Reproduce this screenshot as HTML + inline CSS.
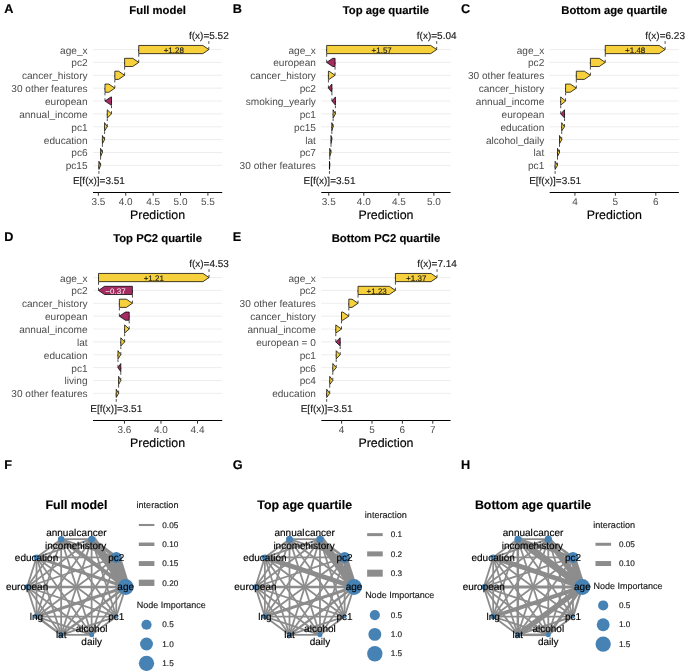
<!DOCTYPE html>
<html><head><meta charset="utf-8"><style>
html,body{margin:0;padding:0;background:#fff;}
svg{display:block;}
text{font-family:"Liberation Sans",sans-serif;text-rendering:geometricPrecision;}
</style></head><body>
<div style="will-change:transform;width:685px;height:671px"><svg width="685" height="671" viewBox="0 0 685 671">
<rect width="685" height="671" fill="#fff"/>
<text x="4.30" y="13.00" font-size="12.7" text-anchor="start" font-weight="bold" fill="#000" stroke="#000" stroke-width="0.15" >A</text>
<text x="157.60" y="13.80" font-size="11.3" text-anchor="middle" font-weight="bold" fill="#000" stroke="#000" stroke-width="0.15" >Full model</text>
<line x1="93.0" x2="222.2" y1="49.55" y2="49.55" stroke="#ebebeb" stroke-width="0.9"/>
<line x1="93.0" x2="222.2" y1="62.42" y2="62.42" stroke="#ebebeb" stroke-width="0.9"/>
<line x1="93.0" x2="222.2" y1="75.29" y2="75.29" stroke="#ebebeb" stroke-width="0.9"/>
<line x1="93.0" x2="222.2" y1="88.15" y2="88.15" stroke="#ebebeb" stroke-width="0.9"/>
<line x1="93.0" x2="222.2" y1="101.02" y2="101.02" stroke="#ebebeb" stroke-width="0.9"/>
<line x1="93.0" x2="222.2" y1="113.89" y2="113.89" stroke="#ebebeb" stroke-width="0.9"/>
<line x1="93.0" x2="222.2" y1="126.76" y2="126.76" stroke="#ebebeb" stroke-width="0.9"/>
<line x1="93.0" x2="222.2" y1="139.63" y2="139.63" stroke="#ebebeb" stroke-width="0.9"/>
<line x1="93.0" x2="222.2" y1="152.49" y2="152.49" stroke="#ebebeb" stroke-width="0.9"/>
<line x1="93.0" x2="222.2" y1="165.36" y2="165.36" stroke="#ebebeb" stroke-width="0.9"/>
<text x="87.60" y="53.55" font-size="10.1" text-anchor="end" fill="#4d4d4d" stroke="#4d4d4d" stroke-width="0" >age_x</text>
<text x="87.60" y="66.42" font-size="10.1" text-anchor="end" fill="#4d4d4d" stroke="#4d4d4d" stroke-width="0" >pc2</text>
<text x="87.60" y="79.29" font-size="10.1" text-anchor="end" fill="#4d4d4d" stroke="#4d4d4d" stroke-width="0" >cancer_history</text>
<text x="87.60" y="92.15" font-size="10.1" text-anchor="end" fill="#4d4d4d" stroke="#4d4d4d" stroke-width="0" >30 other features</text>
<text x="87.60" y="105.02" font-size="10.1" text-anchor="end" fill="#4d4d4d" stroke="#4d4d4d" stroke-width="0" >european</text>
<text x="87.60" y="117.89" font-size="10.1" text-anchor="end" fill="#4d4d4d" stroke="#4d4d4d" stroke-width="0" >annual_income</text>
<text x="87.60" y="130.76" font-size="10.1" text-anchor="end" fill="#4d4d4d" stroke="#4d4d4d" stroke-width="0" >pc1</text>
<text x="87.60" y="143.63" font-size="10.1" text-anchor="end" fill="#4d4d4d" stroke="#4d4d4d" stroke-width="0" >education</text>
<text x="87.60" y="156.49" font-size="10.1" text-anchor="end" fill="#4d4d4d" stroke="#4d4d4d" stroke-width="0" >pc6</text>
<text x="87.60" y="169.36" font-size="10.1" text-anchor="end" fill="#4d4d4d" stroke="#4d4d4d" stroke-width="0" >pc15</text>
<line x1="93.0" x2="222.2" y1="192.5" y2="192.5" stroke="#000" stroke-width="1.1"/>
<line x1="98.35" x2="98.35" y1="192.5" y2="195.7" stroke="#333" stroke-width="1"/>
<text x="98.35" y="204.90" font-size="10" text-anchor="middle" fill="#4d4d4d" stroke="#4d4d4d" stroke-width="0" >3.5</text>
<line x1="125.74" x2="125.74" y1="192.5" y2="195.7" stroke="#333" stroke-width="1"/>
<text x="125.74" y="204.90" font-size="10" text-anchor="middle" fill="#4d4d4d" stroke="#4d4d4d" stroke-width="0" >4.0</text>
<line x1="153.13" x2="153.13" y1="192.5" y2="195.7" stroke="#333" stroke-width="1"/>
<text x="153.13" y="204.90" font-size="10" text-anchor="middle" fill="#4d4d4d" stroke="#4d4d4d" stroke-width="0" >4.5</text>
<line x1="180.52" x2="180.52" y1="192.5" y2="195.7" stroke="#333" stroke-width="1"/>
<text x="180.52" y="204.90" font-size="10" text-anchor="middle" fill="#4d4d4d" stroke="#4d4d4d" stroke-width="0" >5.0</text>
<line x1="207.91" x2="207.91" y1="192.5" y2="195.7" stroke="#333" stroke-width="1"/>
<text x="207.91" y="204.90" font-size="10" text-anchor="middle" fill="#4d4d4d" stroke="#4d4d4d" stroke-width="0" >5.5</text>
<text x="157.60" y="219.20" font-size="12.4" text-anchor="middle" fill="#000" stroke="#000" stroke-width="0.15" >Prediction</text>
<line x1="100.60" x2="100.60" y1="165.36" y2="152.49" stroke="#000" stroke-width="0.7" stroke-dasharray="2.7 3"/>
<line x1="102.40" x2="102.40" y1="152.49" y2="139.63" stroke="#000" stroke-width="0.7" stroke-dasharray="2.7 3"/>
<line x1="104.59" x2="104.59" y1="139.63" y2="126.76" stroke="#000" stroke-width="0.7" stroke-dasharray="2.7 3"/>
<line x1="107.28" x2="107.28" y1="126.76" y2="113.89" stroke="#000" stroke-width="0.7" stroke-dasharray="2.7 3"/>
<line x1="111.50" x2="111.50" y1="113.89" y2="101.02" stroke="#000" stroke-width="0.7" stroke-dasharray="2.7 3"/>
<line x1="104.98" x2="104.98" y1="101.02" y2="88.15" stroke="#000" stroke-width="0.7" stroke-dasharray="2.7 3"/>
<line x1="114.84" x2="114.84" y1="88.15" y2="75.29" stroke="#000" stroke-width="0.7" stroke-dasharray="2.7 3"/>
<line x1="124.64" x2="124.64" y1="75.29" y2="62.42" stroke="#000" stroke-width="0.7" stroke-dasharray="2.7 3"/>
<line x1="138.72" x2="138.72" y1="62.42" y2="49.55" stroke="#000" stroke-width="0.7" stroke-dasharray="2.7 3"/>
<line x1="98.90" x2="98.90" y1="165.36" y2="175.00" stroke="#000" stroke-width="0.7" stroke-dasharray="2.7 3"/>
<text x="98.90" y="183.80" font-size="10" text-anchor="middle" fill="#1a1a1a" stroke="#1a1a1a" stroke-width="0.15" >E[f(x)]=3.51</text>
<line x1="208.84" x2="208.84" y1="49.55" y2="40.50" stroke="#000" stroke-width="0.7" stroke-dasharray="2.7 3"/>
<text x="208.84" y="38.70" font-size="10" text-anchor="middle" fill="#1a1a1a" stroke="#1a1a1a" stroke-width="0.15" >f(x)=5.52</text>
<polygon points="138.72,45.45 202.84,45.45 208.84,49.55 202.84,53.65 138.72,53.65" fill="#f7d13d" stroke="#000" stroke-width="0.75" stroke-linejoin="miter"/>
<text x="173.78" y="52.65" font-size="8" text-anchor="middle" fill="#1a1a1a" stroke="#1a1a1a" stroke-width="0.15" >+1.28</text>
<polygon points="124.64,58.32 132.72,58.32 138.72,62.42 132.72,66.52 124.64,66.52" fill="#f7d13d" stroke="#000" stroke-width="0.75" stroke-linejoin="miter"/>
<polygon points="114.84,71.19 118.64,71.19 124.64,75.29 118.64,79.39 114.84,79.39" fill="#f7d13d" stroke="#000" stroke-width="0.75" stroke-linejoin="miter"/>
<polygon points="104.98,84.05 108.84,84.05 114.84,88.15 108.84,92.25 104.98,92.25" fill="#f7d13d" stroke="#000" stroke-width="0.75" stroke-linejoin="miter"/>
<polygon points="111.50,96.92 110.98,96.92 104.98,101.02 110.98,105.12 111.50,105.12" fill="#a52c60" stroke="#000" stroke-width="0.75" stroke-linejoin="miter"/>
<polygon points="107.28,109.79 107.28,109.79 111.50,113.89 107.28,117.99 107.28,117.99" fill="#f7d13d" stroke="#000" stroke-width="0.75" stroke-linejoin="miter"/>
<polygon points="104.59,122.66 104.59,122.66 107.28,126.76 104.59,130.86 104.59,130.86" fill="#f7d13d" stroke="#000" stroke-width="0.75" stroke-linejoin="miter"/>
<polygon points="102.40,135.53 102.40,135.53 104.59,139.63 102.40,143.73 102.40,143.73" fill="#f7d13d" stroke="#000" stroke-width="0.75" stroke-linejoin="miter"/>
<polygon points="100.60,148.39 100.60,148.39 102.40,152.49 100.60,156.59 100.60,156.59" fill="#f7d13d" stroke="#000" stroke-width="0.75" stroke-linejoin="miter"/>
<polygon points="98.90,161.26 98.90,161.26 100.60,165.36 98.90,169.46 98.90,169.46" fill="#f7d13d" stroke="#000" stroke-width="0.75" stroke-linejoin="miter"/>
<text x="232.63" y="13.00" font-size="12.7" text-anchor="start" font-weight="bold" fill="#000" stroke="#000" stroke-width="0.15" >B</text>
<text x="385.93" y="13.80" font-size="11.3" text-anchor="middle" font-weight="bold" fill="#000" stroke="#000" stroke-width="0.15" >Top age quartile</text>
<line x1="321.33000000000004" x2="450.53" y1="49.55" y2="49.55" stroke="#ebebeb" stroke-width="0.9"/>
<line x1="321.33000000000004" x2="450.53" y1="62.42" y2="62.42" stroke="#ebebeb" stroke-width="0.9"/>
<line x1="321.33000000000004" x2="450.53" y1="75.29" y2="75.29" stroke="#ebebeb" stroke-width="0.9"/>
<line x1="321.33000000000004" x2="450.53" y1="88.15" y2="88.15" stroke="#ebebeb" stroke-width="0.9"/>
<line x1="321.33000000000004" x2="450.53" y1="101.02" y2="101.02" stroke="#ebebeb" stroke-width="0.9"/>
<line x1="321.33000000000004" x2="450.53" y1="113.89" y2="113.89" stroke="#ebebeb" stroke-width="0.9"/>
<line x1="321.33000000000004" x2="450.53" y1="126.76" y2="126.76" stroke="#ebebeb" stroke-width="0.9"/>
<line x1="321.33000000000004" x2="450.53" y1="139.63" y2="139.63" stroke="#ebebeb" stroke-width="0.9"/>
<line x1="321.33000000000004" x2="450.53" y1="152.49" y2="152.49" stroke="#ebebeb" stroke-width="0.9"/>
<line x1="321.33000000000004" x2="450.53" y1="165.36" y2="165.36" stroke="#ebebeb" stroke-width="0.9"/>
<text x="315.93" y="53.55" font-size="10.1" text-anchor="end" fill="#4d4d4d" stroke="#4d4d4d" stroke-width="0" >age_x</text>
<text x="315.93" y="66.42" font-size="10.1" text-anchor="end" fill="#4d4d4d" stroke="#4d4d4d" stroke-width="0" >european</text>
<text x="315.93" y="79.29" font-size="10.1" text-anchor="end" fill="#4d4d4d" stroke="#4d4d4d" stroke-width="0" >cancer_history</text>
<text x="315.93" y="92.15" font-size="10.1" text-anchor="end" fill="#4d4d4d" stroke="#4d4d4d" stroke-width="0" >pc2</text>
<text x="315.93" y="105.02" font-size="10.1" text-anchor="end" fill="#4d4d4d" stroke="#4d4d4d" stroke-width="0" >smoking_yearly</text>
<text x="315.93" y="117.89" font-size="10.1" text-anchor="end" fill="#4d4d4d" stroke="#4d4d4d" stroke-width="0" >pc1</text>
<text x="315.93" y="130.76" font-size="10.1" text-anchor="end" fill="#4d4d4d" stroke="#4d4d4d" stroke-width="0" >pc15</text>
<text x="315.93" y="143.63" font-size="10.1" text-anchor="end" fill="#4d4d4d" stroke="#4d4d4d" stroke-width="0" >lat</text>
<text x="315.93" y="156.49" font-size="10.1" text-anchor="end" fill="#4d4d4d" stroke="#4d4d4d" stroke-width="0" >pc7</text>
<text x="315.93" y="169.36" font-size="10.1" text-anchor="end" fill="#4d4d4d" stroke="#4d4d4d" stroke-width="0" >30 other features</text>
<line x1="321.33000000000004" x2="450.53" y1="192.5" y2="192.5" stroke="#000" stroke-width="1.1"/>
<line x1="328.76" x2="328.76" y1="192.5" y2="195.7" stroke="#333" stroke-width="1"/>
<text x="328.76" y="204.90" font-size="10" text-anchor="middle" fill="#4d4d4d" stroke="#4d4d4d" stroke-width="0" >3.5</text>
<line x1="363.80" x2="363.80" y1="192.5" y2="195.7" stroke="#333" stroke-width="1"/>
<text x="363.80" y="204.90" font-size="10" text-anchor="middle" fill="#4d4d4d" stroke="#4d4d4d" stroke-width="0" >4.0</text>
<line x1="398.84" x2="398.84" y1="192.5" y2="195.7" stroke="#333" stroke-width="1"/>
<text x="398.84" y="204.90" font-size="10" text-anchor="middle" fill="#4d4d4d" stroke="#4d4d4d" stroke-width="0" >4.5</text>
<line x1="433.88" x2="433.88" y1="192.5" y2="195.7" stroke="#333" stroke-width="1"/>
<text x="433.88" y="204.90" font-size="10" text-anchor="middle" fill="#4d4d4d" stroke="#4d4d4d" stroke-width="0" >5.0</text>
<text x="385.93" y="219.20" font-size="12.4" text-anchor="middle" fill="#000" stroke="#000" stroke-width="0.15" >Prediction</text>
<line x1="329.74" x2="329.74" y1="165.36" y2="152.49" stroke="#000" stroke-width="0.7" stroke-dasharray="2.7 3"/>
<line x1="331.00" x2="331.00" y1="152.49" y2="139.63" stroke="#000" stroke-width="0.7" stroke-dasharray="2.7 3"/>
<line x1="331.84" x2="331.84" y1="139.63" y2="126.76" stroke="#000" stroke-width="0.7" stroke-dasharray="2.7 3"/>
<line x1="333.10" x2="333.10" y1="126.76" y2="113.89" stroke="#000" stroke-width="0.7" stroke-dasharray="2.7 3"/>
<line x1="335.42" x2="335.42" y1="113.89" y2="101.02" stroke="#000" stroke-width="0.7" stroke-dasharray="2.7 3"/>
<line x1="331.91" x2="331.91" y1="101.02" y2="88.15" stroke="#000" stroke-width="0.7" stroke-dasharray="2.7 3"/>
<line x1="328.41" x2="328.41" y1="88.15" y2="75.29" stroke="#000" stroke-width="0.7" stroke-dasharray="2.7 3"/>
<line x1="335.07" x2="335.07" y1="75.29" y2="62.42" stroke="#000" stroke-width="0.7" stroke-dasharray="2.7 3"/>
<line x1="326.66" x2="326.66" y1="62.42" y2="49.55" stroke="#000" stroke-width="0.7" stroke-dasharray="2.7 3"/>
<line x1="329.46" x2="329.46" y1="165.36" y2="175.00" stroke="#000" stroke-width="0.7" stroke-dasharray="2.7 3"/>
<text x="329.46" y="183.80" font-size="10" text-anchor="middle" fill="#1a1a1a" stroke="#1a1a1a" stroke-width="0.15" >E[f(x)]=3.51</text>
<line x1="436.68" x2="436.68" y1="49.55" y2="40.50" stroke="#000" stroke-width="0.7" stroke-dasharray="2.7 3"/>
<text x="436.68" y="38.70" font-size="10" text-anchor="middle" fill="#1a1a1a" stroke="#1a1a1a" stroke-width="0.15" >f(x)=5.04</text>
<polygon points="326.66,45.45 430.68,45.45 436.68,49.55 430.68,53.65 326.66,53.65" fill="#f7d13d" stroke="#000" stroke-width="0.75" stroke-linejoin="miter"/>
<text x="381.67" y="52.65" font-size="8" text-anchor="middle" fill="#1a1a1a" stroke="#1a1a1a" stroke-width="0.15" >+1.57</text>
<polygon points="335.07,58.32 332.66,58.32 326.66,62.42 332.66,66.52 335.07,66.52" fill="#a52c60" stroke="#000" stroke-width="0.75" stroke-linejoin="miter"/>
<polygon points="328.41,71.19 329.07,71.19 335.07,75.29 329.07,79.39 328.41,79.39" fill="#f7d13d" stroke="#000" stroke-width="0.75" stroke-linejoin="miter"/>
<polygon points="331.91,84.05 331.91,84.05 328.41,88.15 331.91,92.25 331.91,92.25" fill="#a52c60" stroke="#000" stroke-width="0.75" stroke-linejoin="miter"/>
<polygon points="335.42,96.92 335.42,96.92 331.91,101.02 335.42,105.12 335.42,105.12" fill="#a52c60" stroke="#000" stroke-width="0.75" stroke-linejoin="miter"/>
<polygon points="333.10,109.79 333.10,109.79 335.42,113.89 333.10,117.99 333.10,117.99" fill="#f7d13d" stroke="#000" stroke-width="0.75" stroke-linejoin="miter"/>
<polygon points="331.84,122.66 331.84,122.66 333.10,126.76 331.84,130.86 331.84,130.86" fill="#f7d13d" stroke="#000" stroke-width="0.75" stroke-linejoin="miter"/>
<polygon points="331.00,135.53 331.00,135.53 331.84,139.63 331.00,143.73 331.00,143.73" fill="#f7d13d" stroke="#000" stroke-width="0.75" stroke-linejoin="miter"/>
<polygon points="329.74,148.39 329.74,148.39 331.00,152.49 329.74,156.59 329.74,156.59" fill="#f7d13d" stroke="#000" stroke-width="0.75" stroke-linejoin="miter"/>
<polygon points="329.46,161.26 329.46,161.26 329.74,165.36 329.46,169.46 329.46,169.46" fill="#f7d13d" stroke="#000" stroke-width="0.75" stroke-linejoin="miter"/>
<text x="460.97" y="13.00" font-size="12.7" text-anchor="start" font-weight="bold" fill="#000" stroke="#000" stroke-width="0.15" >C</text>
<text x="614.27" y="13.80" font-size="11.3" text-anchor="middle" font-weight="bold" fill="#000" stroke="#000" stroke-width="0.15" >Bottom age quartile</text>
<line x1="549.6700000000001" x2="678.87" y1="49.55" y2="49.55" stroke="#ebebeb" stroke-width="0.9"/>
<line x1="549.6700000000001" x2="678.87" y1="62.42" y2="62.42" stroke="#ebebeb" stroke-width="0.9"/>
<line x1="549.6700000000001" x2="678.87" y1="75.29" y2="75.29" stroke="#ebebeb" stroke-width="0.9"/>
<line x1="549.6700000000001" x2="678.87" y1="88.15" y2="88.15" stroke="#ebebeb" stroke-width="0.9"/>
<line x1="549.6700000000001" x2="678.87" y1="101.02" y2="101.02" stroke="#ebebeb" stroke-width="0.9"/>
<line x1="549.6700000000001" x2="678.87" y1="113.89" y2="113.89" stroke="#ebebeb" stroke-width="0.9"/>
<line x1="549.6700000000001" x2="678.87" y1="126.76" y2="126.76" stroke="#ebebeb" stroke-width="0.9"/>
<line x1="549.6700000000001" x2="678.87" y1="139.63" y2="139.63" stroke="#ebebeb" stroke-width="0.9"/>
<line x1="549.6700000000001" x2="678.87" y1="152.49" y2="152.49" stroke="#ebebeb" stroke-width="0.9"/>
<line x1="549.6700000000001" x2="678.87" y1="165.36" y2="165.36" stroke="#ebebeb" stroke-width="0.9"/>
<text x="544.27" y="53.55" font-size="10.1" text-anchor="end" fill="#4d4d4d" stroke="#4d4d4d" stroke-width="0" >age_x</text>
<text x="544.27" y="66.42" font-size="10.1" text-anchor="end" fill="#4d4d4d" stroke="#4d4d4d" stroke-width="0" >pc2</text>
<text x="544.27" y="79.29" font-size="10.1" text-anchor="end" fill="#4d4d4d" stroke="#4d4d4d" stroke-width="0" >30 other features</text>
<text x="544.27" y="92.15" font-size="10.1" text-anchor="end" fill="#4d4d4d" stroke="#4d4d4d" stroke-width="0" >cancer_history</text>
<text x="544.27" y="105.02" font-size="10.1" text-anchor="end" fill="#4d4d4d" stroke="#4d4d4d" stroke-width="0" >annual_income</text>
<text x="544.27" y="117.89" font-size="10.1" text-anchor="end" fill="#4d4d4d" stroke="#4d4d4d" stroke-width="0" >european</text>
<text x="544.27" y="130.76" font-size="10.1" text-anchor="end" fill="#4d4d4d" stroke="#4d4d4d" stroke-width="0" >education</text>
<text x="544.27" y="143.63" font-size="10.1" text-anchor="end" fill="#4d4d4d" stroke="#4d4d4d" stroke-width="0" >alcohol_daily</text>
<text x="544.27" y="156.49" font-size="10.1" text-anchor="end" fill="#4d4d4d" stroke="#4d4d4d" stroke-width="0" >lat</text>
<text x="544.27" y="169.36" font-size="10.1" text-anchor="end" fill="#4d4d4d" stroke="#4d4d4d" stroke-width="0" >pc1</text>
<line x1="549.6700000000001" x2="678.87" y1="192.5" y2="192.5" stroke="#000" stroke-width="1.1"/>
<line x1="574.93" x2="574.93" y1="192.5" y2="195.7" stroke="#333" stroke-width="1"/>
<text x="574.93" y="204.90" font-size="10" text-anchor="middle" fill="#4d4d4d" stroke="#4d4d4d" stroke-width="0" >4</text>
<line x1="615.37" x2="615.37" y1="192.5" y2="195.7" stroke="#333" stroke-width="1"/>
<text x="615.37" y="204.90" font-size="10" text-anchor="middle" fill="#4d4d4d" stroke="#4d4d4d" stroke-width="0" >5</text>
<line x1="655.81" x2="655.81" y1="192.5" y2="195.7" stroke="#333" stroke-width="1"/>
<text x="655.81" y="204.90" font-size="10" text-anchor="middle" fill="#4d4d4d" stroke="#4d4d4d" stroke-width="0" >6</text>
<text x="614.27" y="219.20" font-size="12.4" text-anchor="middle" fill="#000" stroke="#000" stroke-width="0.15" >Prediction</text>
<line x1="557.50" x2="557.50" y1="165.36" y2="152.49" stroke="#000" stroke-width="0.7" stroke-dasharray="2.7 3"/>
<line x1="559.52" x2="559.52" y1="152.49" y2="139.63" stroke="#000" stroke-width="0.7" stroke-dasharray="2.7 3"/>
<line x1="561.71" x2="561.71" y1="139.63" y2="126.76" stroke="#000" stroke-width="0.7" stroke-dasharray="2.7 3"/>
<line x1="564.54" x2="564.54" y1="126.76" y2="113.89" stroke="#000" stroke-width="0.7" stroke-dasharray="2.7 3"/>
<line x1="560.70" x2="560.70" y1="113.89" y2="101.02" stroke="#000" stroke-width="0.7" stroke-dasharray="2.7 3"/>
<line x1="565.59" x2="565.59" y1="101.02" y2="88.15" stroke="#000" stroke-width="0.7" stroke-dasharray="2.7 3"/>
<line x1="576.30" x2="576.30" y1="88.15" y2="75.29" stroke="#000" stroke-width="0.7" stroke-dasharray="2.7 3"/>
<line x1="590.38" x2="590.38" y1="75.29" y2="62.42" stroke="#000" stroke-width="0.7" stroke-dasharray="2.7 3"/>
<line x1="605.26" x2="605.26" y1="62.42" y2="49.55" stroke="#000" stroke-width="0.7" stroke-dasharray="2.7 3"/>
<line x1="555.11" x2="555.11" y1="165.36" y2="175.00" stroke="#000" stroke-width="0.7" stroke-dasharray="2.7 3"/>
<text x="555.11" y="183.80" font-size="10" text-anchor="middle" fill="#1a1a1a" stroke="#1a1a1a" stroke-width="0.15" >E[f(x)]=3.51</text>
<line x1="665.11" x2="665.11" y1="49.55" y2="40.50" stroke="#000" stroke-width="0.7" stroke-dasharray="2.7 3"/>
<text x="665.11" y="38.70" font-size="10" text-anchor="middle" fill="#1a1a1a" stroke="#1a1a1a" stroke-width="0.15" >f(x)=6.23</text>
<polygon points="605.26,45.45 659.11,45.45 665.11,49.55 659.11,53.65 605.26,53.65" fill="#f7d13d" stroke="#000" stroke-width="0.75" stroke-linejoin="miter"/>
<text x="635.19" y="52.65" font-size="8" text-anchor="middle" fill="#1a1a1a" stroke="#1a1a1a" stroke-width="0.15" >+1.48</text>
<polygon points="590.38,58.32 599.26,58.32 605.26,62.42 599.26,66.52 590.38,66.52" fill="#f7d13d" stroke="#000" stroke-width="0.75" stroke-linejoin="miter"/>
<polygon points="576.30,71.19 584.38,71.19 590.38,75.29 584.38,79.39 576.30,79.39" fill="#f7d13d" stroke="#000" stroke-width="0.75" stroke-linejoin="miter"/>
<polygon points="565.59,84.05 570.30,84.05 576.30,88.15 570.30,92.25 565.59,92.25" fill="#f7d13d" stroke="#000" stroke-width="0.75" stroke-linejoin="miter"/>
<polygon points="560.70,96.92 560.70,96.92 565.59,101.02 560.70,105.12 560.70,105.12" fill="#f7d13d" stroke="#000" stroke-width="0.75" stroke-linejoin="miter"/>
<polygon points="564.54,109.79 564.54,109.79 560.70,113.89 564.54,117.99 564.54,117.99" fill="#a52c60" stroke="#000" stroke-width="0.75" stroke-linejoin="miter"/>
<polygon points="561.71,122.66 561.71,122.66 564.54,126.76 561.71,130.86 561.71,130.86" fill="#f7d13d" stroke="#000" stroke-width="0.75" stroke-linejoin="miter"/>
<polygon points="559.52,135.53 559.52,135.53 561.71,139.63 559.52,143.73 559.52,143.73" fill="#f7d13d" stroke="#000" stroke-width="0.75" stroke-linejoin="miter"/>
<polygon points="557.50,148.39 557.50,148.39 559.52,152.49 557.50,156.59 557.50,156.59" fill="#f7d13d" stroke="#000" stroke-width="0.75" stroke-linejoin="miter"/>
<polygon points="555.11,161.26 555.11,161.26 557.50,165.36 555.11,169.46 555.11,169.46" fill="#f7d13d" stroke="#000" stroke-width="0.75" stroke-linejoin="miter"/>
<text x="4.30" y="241.00" font-size="12.7" text-anchor="start" font-weight="bold" fill="#000" stroke="#000" stroke-width="0.15" >D</text>
<text x="157.60" y="241.80" font-size="11.3" text-anchor="middle" font-weight="bold" fill="#000" stroke="#000" stroke-width="0.15" >Top PC2 quartile</text>
<line x1="93.0" x2="222.2" y1="277.55" y2="277.55" stroke="#ebebeb" stroke-width="0.9"/>
<line x1="93.0" x2="222.2" y1="290.42" y2="290.42" stroke="#ebebeb" stroke-width="0.9"/>
<line x1="93.0" x2="222.2" y1="303.29" y2="303.29" stroke="#ebebeb" stroke-width="0.9"/>
<line x1="93.0" x2="222.2" y1="316.15" y2="316.15" stroke="#ebebeb" stroke-width="0.9"/>
<line x1="93.0" x2="222.2" y1="329.02" y2="329.02" stroke="#ebebeb" stroke-width="0.9"/>
<line x1="93.0" x2="222.2" y1="341.89" y2="341.89" stroke="#ebebeb" stroke-width="0.9"/>
<line x1="93.0" x2="222.2" y1="354.76" y2="354.76" stroke="#ebebeb" stroke-width="0.9"/>
<line x1="93.0" x2="222.2" y1="367.63" y2="367.63" stroke="#ebebeb" stroke-width="0.9"/>
<line x1="93.0" x2="222.2" y1="380.49" y2="380.49" stroke="#ebebeb" stroke-width="0.9"/>
<line x1="93.0" x2="222.2" y1="393.36" y2="393.36" stroke="#ebebeb" stroke-width="0.9"/>
<text x="87.60" y="281.55" font-size="10.1" text-anchor="end" fill="#4d4d4d" stroke="#4d4d4d" stroke-width="0" >age_x</text>
<text x="87.60" y="294.42" font-size="10.1" text-anchor="end" fill="#4d4d4d" stroke="#4d4d4d" stroke-width="0" >pc2</text>
<text x="87.60" y="307.29" font-size="10.1" text-anchor="end" fill="#4d4d4d" stroke="#4d4d4d" stroke-width="0" >cancer_history</text>
<text x="87.60" y="320.15" font-size="10.1" text-anchor="end" fill="#4d4d4d" stroke="#4d4d4d" stroke-width="0" >european</text>
<text x="87.60" y="333.02" font-size="10.1" text-anchor="end" fill="#4d4d4d" stroke="#4d4d4d" stroke-width="0" >annual_income</text>
<text x="87.60" y="345.89" font-size="10.1" text-anchor="end" fill="#4d4d4d" stroke="#4d4d4d" stroke-width="0" >lat</text>
<text x="87.60" y="358.76" font-size="10.1" text-anchor="end" fill="#4d4d4d" stroke="#4d4d4d" stroke-width="0" >education</text>
<text x="87.60" y="371.63" font-size="10.1" text-anchor="end" fill="#4d4d4d" stroke="#4d4d4d" stroke-width="0" >pc1</text>
<text x="87.60" y="384.49" font-size="10.1" text-anchor="end" fill="#4d4d4d" stroke="#4d4d4d" stroke-width="0" >living</text>
<text x="87.60" y="397.36" font-size="10.1" text-anchor="end" fill="#4d4d4d" stroke="#4d4d4d" stroke-width="0" >30 other features</text>
<line x1="93.0" x2="222.2" y1="420.5" y2="420.5" stroke="#000" stroke-width="1.1"/>
<line x1="124.46" x2="124.46" y1="420.5" y2="423.7" stroke="#333" stroke-width="1"/>
<text x="124.46" y="432.90" font-size="10" text-anchor="middle" fill="#4d4d4d" stroke="#4d4d4d" stroke-width="0" >3.6</text>
<line x1="160.98" x2="160.98" y1="420.5" y2="423.7" stroke="#333" stroke-width="1"/>
<text x="160.98" y="432.90" font-size="10" text-anchor="middle" fill="#4d4d4d" stroke="#4d4d4d" stroke-width="0" >4.0</text>
<line x1="197.50" x2="197.50" y1="420.5" y2="423.7" stroke="#333" stroke-width="1"/>
<text x="197.50" y="432.90" font-size="10" text-anchor="middle" fill="#4d4d4d" stroke="#4d4d4d" stroke-width="0" >4.4</text>
<text x="157.60" y="447.20" font-size="12.4" text-anchor="middle" fill="#000" stroke="#000" stroke-width="0.15" >Prediction</text>
<line x1="118.62" x2="118.62" y1="393.36" y2="380.49" stroke="#000" stroke-width="0.7" stroke-dasharray="2.7 3"/>
<line x1="120.81" x2="120.81" y1="380.49" y2="367.63" stroke="#000" stroke-width="0.7" stroke-dasharray="2.7 3"/>
<line x1="117.98" x2="117.98" y1="367.63" y2="354.76" stroke="#000" stroke-width="0.7" stroke-dasharray="2.7 3"/>
<line x1="120.81" x2="120.81" y1="354.76" y2="341.89" stroke="#000" stroke-width="0.7" stroke-dasharray="2.7 3"/>
<line x1="124.64" x2="124.64" y1="341.89" y2="329.02" stroke="#000" stroke-width="0.7" stroke-dasharray="2.7 3"/>
<line x1="129.21" x2="129.21" y1="329.02" y2="316.15" stroke="#000" stroke-width="0.7" stroke-dasharray="2.7 3"/>
<line x1="119.35" x2="119.35" y1="316.15" y2="303.29" stroke="#000" stroke-width="0.7" stroke-dasharray="2.7 3"/>
<line x1="132.40" x2="132.40" y1="303.29" y2="290.42" stroke="#000" stroke-width="0.7" stroke-dasharray="2.7 3"/>
<line x1="98.53" x2="98.53" y1="290.42" y2="277.55" stroke="#000" stroke-width="0.7" stroke-dasharray="2.7 3"/>
<line x1="116.24" x2="116.24" y1="393.36" y2="403.00" stroke="#000" stroke-width="0.7" stroke-dasharray="2.7 3"/>
<text x="116.24" y="411.80" font-size="10" text-anchor="middle" fill="#1a1a1a" stroke="#1a1a1a" stroke-width="0.15" >E[f(x)]=3.51</text>
<line x1="209.00" x2="209.00" y1="277.55" y2="268.50" stroke="#000" stroke-width="0.7" stroke-dasharray="2.7 3"/>
<text x="209.00" y="266.70" font-size="10" text-anchor="middle" fill="#1a1a1a" stroke="#1a1a1a" stroke-width="0.15" >f(x)=4.53</text>
<polygon points="98.53,273.45 203.00,273.45 209.00,277.55 203.00,281.65 98.53,281.65" fill="#f7d13d" stroke="#000" stroke-width="0.75" stroke-linejoin="miter"/>
<text x="153.77" y="280.65" font-size="8" text-anchor="middle" fill="#1a1a1a" stroke="#1a1a1a" stroke-width="0.15" >+1.21</text>
<polygon points="132.40,286.32 104.53,286.32 98.53,290.42 104.53,294.52 132.40,294.52" fill="#a52c60" stroke="#000" stroke-width="0.75" stroke-linejoin="miter"/>
<text x="115.47" y="293.52" font-size="8" text-anchor="middle" fill="#fff" stroke="#fff" stroke-width="0" >−0.37</text>
<polygon points="119.35,299.19 126.40,299.19 132.40,303.29 126.40,307.39 119.35,307.39" fill="#f7d13d" stroke="#000" stroke-width="0.75" stroke-linejoin="miter"/>
<polygon points="129.21,312.05 125.35,312.05 119.35,316.15 125.35,320.25 129.21,320.25" fill="#a52c60" stroke="#000" stroke-width="0.75" stroke-linejoin="miter"/>
<polygon points="124.64,324.92 124.64,324.92 129.21,329.02 124.64,333.12 124.64,333.12" fill="#f7d13d" stroke="#000" stroke-width="0.75" stroke-linejoin="miter"/>
<polygon points="120.81,337.79 120.81,337.79 124.64,341.89 120.81,345.99 120.81,345.99" fill="#f7d13d" stroke="#000" stroke-width="0.75" stroke-linejoin="miter"/>
<polygon points="117.98,350.66 117.98,350.66 120.81,354.76 117.98,358.86 117.98,358.86" fill="#f7d13d" stroke="#000" stroke-width="0.75" stroke-linejoin="miter"/>
<polygon points="120.81,363.53 120.81,363.53 117.98,367.63 120.81,371.73 120.81,371.73" fill="#a52c60" stroke="#000" stroke-width="0.75" stroke-linejoin="miter"/>
<polygon points="118.62,376.39 118.62,376.39 120.81,380.49 118.62,384.59 118.62,384.59" fill="#f7d13d" stroke="#000" stroke-width="0.75" stroke-linejoin="miter"/>
<polygon points="116.24,389.26 116.24,389.26 118.62,393.36 116.24,397.46 116.24,397.46" fill="#f7d13d" stroke="#000" stroke-width="0.75" stroke-linejoin="miter"/>
<text x="232.63" y="241.00" font-size="12.7" text-anchor="start" font-weight="bold" fill="#000" stroke="#000" stroke-width="0.15" >E</text>
<text x="385.93" y="241.80" font-size="11.3" text-anchor="middle" font-weight="bold" fill="#000" stroke="#000" stroke-width="0.15" >Bottom PC2 quartile</text>
<line x1="321.33000000000004" x2="450.53" y1="277.55" y2="277.55" stroke="#ebebeb" stroke-width="0.9"/>
<line x1="321.33000000000004" x2="450.53" y1="290.42" y2="290.42" stroke="#ebebeb" stroke-width="0.9"/>
<line x1="321.33000000000004" x2="450.53" y1="303.29" y2="303.29" stroke="#ebebeb" stroke-width="0.9"/>
<line x1="321.33000000000004" x2="450.53" y1="316.15" y2="316.15" stroke="#ebebeb" stroke-width="0.9"/>
<line x1="321.33000000000004" x2="450.53" y1="329.02" y2="329.02" stroke="#ebebeb" stroke-width="0.9"/>
<line x1="321.33000000000004" x2="450.53" y1="341.89" y2="341.89" stroke="#ebebeb" stroke-width="0.9"/>
<line x1="321.33000000000004" x2="450.53" y1="354.76" y2="354.76" stroke="#ebebeb" stroke-width="0.9"/>
<line x1="321.33000000000004" x2="450.53" y1="367.63" y2="367.63" stroke="#ebebeb" stroke-width="0.9"/>
<line x1="321.33000000000004" x2="450.53" y1="380.49" y2="380.49" stroke="#ebebeb" stroke-width="0.9"/>
<line x1="321.33000000000004" x2="450.53" y1="393.36" y2="393.36" stroke="#ebebeb" stroke-width="0.9"/>
<text x="315.93" y="281.55" font-size="10.1" text-anchor="end" fill="#4d4d4d" stroke="#4d4d4d" stroke-width="0" >age_x</text>
<text x="315.93" y="294.42" font-size="10.1" text-anchor="end" fill="#4d4d4d" stroke="#4d4d4d" stroke-width="0" >pc2</text>
<text x="315.93" y="307.29" font-size="10.1" text-anchor="end" fill="#4d4d4d" stroke="#4d4d4d" stroke-width="0" >30 other features</text>
<text x="315.93" y="320.15" font-size="10.1" text-anchor="end" fill="#4d4d4d" stroke="#4d4d4d" stroke-width="0" >cancer_history</text>
<text x="315.93" y="333.02" font-size="10.1" text-anchor="end" fill="#4d4d4d" stroke="#4d4d4d" stroke-width="0" >annual_income</text>
<text x="315.93" y="345.89" font-size="10.1" text-anchor="end" fill="#4d4d4d" stroke="#4d4d4d" stroke-width="0" >european = 0</text>
<text x="315.93" y="358.76" font-size="10.1" text-anchor="end" fill="#4d4d4d" stroke="#4d4d4d" stroke-width="0" >pc1</text>
<text x="315.93" y="371.63" font-size="10.1" text-anchor="end" fill="#4d4d4d" stroke="#4d4d4d" stroke-width="0" >pc6</text>
<text x="315.93" y="384.49" font-size="10.1" text-anchor="end" fill="#4d4d4d" stroke="#4d4d4d" stroke-width="0" >pc4</text>
<text x="315.93" y="397.36" font-size="10.1" text-anchor="end" fill="#4d4d4d" stroke="#4d4d4d" stroke-width="0" >education</text>
<line x1="321.33000000000004" x2="450.53" y1="420.5" y2="420.5" stroke="#000" stroke-width="1.1"/>
<line x1="341.60" x2="341.60" y1="420.5" y2="423.7" stroke="#333" stroke-width="1"/>
<text x="341.60" y="432.90" font-size="10" text-anchor="middle" fill="#4d4d4d" stroke="#4d4d4d" stroke-width="0" >4</text>
<line x1="372.00" x2="372.00" y1="420.5" y2="423.7" stroke="#333" stroke-width="1"/>
<text x="372.00" y="432.90" font-size="10" text-anchor="middle" fill="#4d4d4d" stroke="#4d4d4d" stroke-width="0" >5</text>
<line x1="402.40" x2="402.40" y1="420.5" y2="423.7" stroke="#333" stroke-width="1"/>
<text x="402.40" y="432.90" font-size="10" text-anchor="middle" fill="#4d4d4d" stroke="#4d4d4d" stroke-width="0" >6</text>
<line x1="432.80" x2="432.80" y1="420.5" y2="423.7" stroke="#333" stroke-width="1"/>
<text x="432.80" y="432.90" font-size="10" text-anchor="middle" fill="#4d4d4d" stroke="#4d4d4d" stroke-width="0" >7</text>
<text x="385.93" y="447.20" font-size="12.4" text-anchor="middle" fill="#000" stroke="#000" stroke-width="0.15" >Prediction</text>
<line x1="329.71" x2="329.71" y1="393.36" y2="380.49" stroke="#000" stroke-width="0.7" stroke-dasharray="2.7 3"/>
<line x1="332.81" x2="332.81" y1="380.49" y2="367.63" stroke="#000" stroke-width="0.7" stroke-dasharray="2.7 3"/>
<line x1="336.19" x2="336.19" y1="367.63" y2="354.76" stroke="#000" stroke-width="0.7" stroke-dasharray="2.7 3"/>
<line x1="340.20" x2="340.20" y1="354.76" y2="341.89" stroke="#000" stroke-width="0.7" stroke-dasharray="2.7 3"/>
<line x1="335.79" x2="335.79" y1="341.89" y2="329.02" stroke="#000" stroke-width="0.7" stroke-dasharray="2.7 3"/>
<line x1="341.51" x2="341.51" y1="329.02" y2="316.15" stroke="#000" stroke-width="0.7" stroke-dasharray="2.7 3"/>
<line x1="348.80" x2="348.80" y1="316.15" y2="303.29" stroke="#000" stroke-width="0.7" stroke-dasharray="2.7 3"/>
<line x1="358.02" x2="358.02" y1="303.29" y2="290.42" stroke="#000" stroke-width="0.7" stroke-dasharray="2.7 3"/>
<line x1="395.41" x2="395.41" y1="290.42" y2="277.55" stroke="#000" stroke-width="0.7" stroke-dasharray="2.7 3"/>
<line x1="326.70" x2="326.70" y1="393.36" y2="403.00" stroke="#000" stroke-width="0.7" stroke-dasharray="2.7 3"/>
<text x="326.70" y="411.80" font-size="10" text-anchor="middle" fill="#1a1a1a" stroke="#1a1a1a" stroke-width="0.15" >E[f(x)]=3.51</text>
<line x1="437.06" x2="437.06" y1="277.55" y2="268.50" stroke="#000" stroke-width="0.7" stroke-dasharray="2.7 3"/>
<text x="437.06" y="266.70" font-size="10" text-anchor="middle" fill="#1a1a1a" stroke="#1a1a1a" stroke-width="0.15" >f(x)=7.14</text>
<polygon points="395.41,273.45 431.06,273.45 437.06,277.55 431.06,281.65 395.41,281.65" fill="#f7d13d" stroke="#000" stroke-width="0.75" stroke-linejoin="miter"/>
<text x="416.23" y="280.65" font-size="8" text-anchor="middle" fill="#1a1a1a" stroke="#1a1a1a" stroke-width="0.15" >+1.37</text>
<polygon points="358.02,286.32 389.41,286.32 395.41,290.42 389.41,294.52 358.02,294.52" fill="#f7d13d" stroke="#000" stroke-width="0.75" stroke-linejoin="miter"/>
<text x="376.71" y="293.52" font-size="8" text-anchor="middle" fill="#1a1a1a" stroke="#1a1a1a" stroke-width="0.15" >+1.23</text>
<polygon points="348.80,299.19 352.02,299.19 358.02,303.29 352.02,307.39 348.80,307.39" fill="#f7d13d" stroke="#000" stroke-width="0.75" stroke-linejoin="miter"/>
<polygon points="341.51,312.05 342.80,312.05 348.80,316.15 342.80,320.25 341.51,320.25" fill="#f7d13d" stroke="#000" stroke-width="0.75" stroke-linejoin="miter"/>
<polygon points="335.79,324.92 335.79,324.92 341.51,329.02 335.79,333.12 335.79,333.12" fill="#f7d13d" stroke="#000" stroke-width="0.75" stroke-linejoin="miter"/>
<polygon points="340.20,337.79 340.20,337.79 335.79,341.89 340.20,345.99 340.20,345.99" fill="#a52c60" stroke="#000" stroke-width="0.75" stroke-linejoin="miter"/>
<polygon points="336.19,350.66 336.19,350.66 340.20,354.76 336.19,358.86 336.19,358.86" fill="#f7d13d" stroke="#000" stroke-width="0.75" stroke-linejoin="miter"/>
<polygon points="332.81,363.53 332.81,363.53 336.19,367.63 332.81,371.73 332.81,371.73" fill="#f7d13d" stroke="#000" stroke-width="0.75" stroke-linejoin="miter"/>
<polygon points="329.71,376.39 329.71,376.39 332.81,380.49 329.71,384.59 329.71,384.59" fill="#f7d13d" stroke="#000" stroke-width="0.75" stroke-linejoin="miter"/>
<polygon points="326.70,389.26 326.70,389.26 329.71,393.36 326.70,397.46 326.70,397.46" fill="#f7d13d" stroke="#000" stroke-width="0.75" stroke-linejoin="miter"/>
<text x="4.30" y="469.10" font-size="12.7" text-anchor="start" font-weight="bold" fill="#000" stroke="#000" stroke-width="0.15" >F</text>
<text x="76.40" y="509.40" font-size="12.4" text-anchor="middle" font-weight="bold" fill="#000" stroke="#000" stroke-width="0.15" >Full model</text>
<line x1="125.70" y1="587.00" x2="91.63" y2="634.84" stroke="#8c8c8c" stroke-width="1.8"/>
<line x1="125.70" y1="587.00" x2="116.28" y2="616.57" stroke="#8c8c8c" stroke-width="1.8"/>
<line x1="91.63" y1="634.84" x2="116.28" y2="616.57" stroke="#8c8c8c" stroke-width="1.8"/>
<line x1="61.17" y1="539.16" x2="91.63" y2="634.84" stroke="#8c8c8c" stroke-width="1.8"/>
<line x1="61.17" y1="539.16" x2="36.52" y2="557.43" stroke="#8c8c8c" stroke-width="1.8"/>
<line x1="61.17" y1="539.16" x2="27.10" y2="587.00" stroke="#8c8c8c" stroke-width="1.8"/>
<line x1="61.17" y1="539.16" x2="61.17" y2="634.84" stroke="#8c8c8c" stroke-width="1.8"/>
<line x1="61.17" y1="539.16" x2="36.52" y2="616.57" stroke="#8c8c8c" stroke-width="1.8"/>
<line x1="61.17" y1="539.16" x2="116.28" y2="616.57" stroke="#8c8c8c" stroke-width="1.8"/>
<line x1="91.63" y1="539.16" x2="91.63" y2="634.84" stroke="#8c8c8c" stroke-width="1.8"/>
<line x1="91.63" y1="539.16" x2="61.17" y2="539.16" stroke="#8c8c8c" stroke-width="1.8"/>
<line x1="91.63" y1="539.16" x2="36.52" y2="557.43" stroke="#8c8c8c" stroke-width="1.8"/>
<line x1="91.63" y1="539.16" x2="27.10" y2="587.00" stroke="#8c8c8c" stroke-width="1.8"/>
<line x1="91.63" y1="539.16" x2="61.17" y2="634.84" stroke="#8c8c8c" stroke-width="1.8"/>
<line x1="91.63" y1="539.16" x2="36.52" y2="616.57" stroke="#8c8c8c" stroke-width="1.8"/>
<line x1="91.63" y1="539.16" x2="116.28" y2="616.57" stroke="#8c8c8c" stroke-width="1.8"/>
<line x1="36.52" y1="557.43" x2="91.63" y2="634.84" stroke="#8c8c8c" stroke-width="1.8"/>
<line x1="36.52" y1="557.43" x2="27.10" y2="587.00" stroke="#8c8c8c" stroke-width="1.8"/>
<line x1="36.52" y1="557.43" x2="61.17" y2="634.84" stroke="#8c8c8c" stroke-width="1.8"/>
<line x1="36.52" y1="557.43" x2="36.52" y2="616.57" stroke="#8c8c8c" stroke-width="1.8"/>
<line x1="36.52" y1="557.43" x2="116.28" y2="616.57" stroke="#8c8c8c" stroke-width="1.8"/>
<line x1="27.10" y1="587.00" x2="91.63" y2="634.84" stroke="#8c8c8c" stroke-width="1.8"/>
<line x1="27.10" y1="587.00" x2="61.17" y2="634.84" stroke="#8c8c8c" stroke-width="1.8"/>
<line x1="27.10" y1="587.00" x2="36.52" y2="616.57" stroke="#8c8c8c" stroke-width="1.8"/>
<line x1="27.10" y1="587.00" x2="116.28" y2="616.57" stroke="#8c8c8c" stroke-width="1.8"/>
<line x1="61.17" y1="634.84" x2="91.63" y2="634.84" stroke="#8c8c8c" stroke-width="1.8"/>
<line x1="61.17" y1="634.84" x2="116.28" y2="616.57" stroke="#8c8c8c" stroke-width="1.8"/>
<line x1="36.52" y1="616.57" x2="91.63" y2="634.84" stroke="#8c8c8c" stroke-width="1.8"/>
<line x1="36.52" y1="616.57" x2="116.28" y2="616.57" stroke="#8c8c8c" stroke-width="1.8"/>
<line x1="116.28" y1="557.43" x2="91.63" y2="634.84" stroke="#8c8c8c" stroke-width="1.8"/>
<line x1="116.28" y1="557.43" x2="61.17" y2="539.16" stroke="#8c8c8c" stroke-width="1.8"/>
<line x1="116.28" y1="557.43" x2="36.52" y2="557.43" stroke="#8c8c8c" stroke-width="1.8"/>
<line x1="116.28" y1="557.43" x2="27.10" y2="587.00" stroke="#8c8c8c" stroke-width="1.8"/>
<line x1="116.28" y1="557.43" x2="61.17" y2="634.84" stroke="#8c8c8c" stroke-width="1.8"/>
<line x1="116.28" y1="557.43" x2="36.52" y2="616.57" stroke="#8c8c8c" stroke-width="1.8"/>
<line x1="116.28" y1="557.43" x2="116.28" y2="616.57" stroke="#8c8c8c" stroke-width="1.8"/>
<line x1="125.70" y1="587.00" x2="27.10" y2="587.00" stroke="#8c8c8c" stroke-width="2.4"/>
<line x1="36.52" y1="616.57" x2="61.17" y2="634.84" stroke="#8c8c8c" stroke-width="2.4"/>
<line x1="125.70" y1="587.00" x2="61.17" y2="634.84" stroke="#8c8c8c" stroke-width="2.5"/>
<line x1="125.70" y1="587.00" x2="36.52" y2="557.43" stroke="#8c8c8c" stroke-width="3.0"/>
<line x1="125.70" y1="587.00" x2="36.52" y2="616.57" stroke="#8c8c8c" stroke-width="3.0"/>
<line x1="116.28" y1="557.43" x2="91.63" y2="539.16" stroke="#8c8c8c" stroke-width="3.5"/>
<line x1="125.70" y1="587.00" x2="61.17" y2="539.16" stroke="#8c8c8c" stroke-width="4.0"/>
<line x1="125.70" y1="587.00" x2="91.63" y2="539.16" stroke="#8c8c8c" stroke-width="8.0"/>
<line x1="125.70" y1="587.00" x2="116.28" y2="557.43" stroke="#8c8c8c" stroke-width="9.0"/>
<circle cx="125.70" cy="587.00" r="7.95" fill="#4682b4"/>
<circle cx="116.28" cy="557.43" r="5.5" fill="#4682b4"/>
<circle cx="91.63" cy="539.16" r="3.5" fill="#4682b4"/>
<circle cx="61.17" cy="539.16" r="3.25" fill="#4682b4"/>
<circle cx="36.52" cy="557.43" r="2.9" fill="#4682b4"/>
<circle cx="27.10" cy="587.00" r="2.75" fill="#4682b4"/>
<circle cx="36.52" cy="616.57" r="2.75" fill="#4682b4"/>
<circle cx="61.17" cy="634.84" r="2.65" fill="#4682b4"/>
<circle cx="91.63" cy="634.84" r="2.5" fill="#4682b4"/>
<circle cx="116.28" cy="616.57" r="1.95" fill="#4682b4"/>
<text x="125.70" y="590.30" font-size="10" text-anchor="middle" fill="#000" stroke="#000" stroke-width="0.15" >age</text>
<text x="116.28" y="560.73" font-size="10" text-anchor="middle" fill="#000" stroke="#000" stroke-width="0.15" >pc2</text>
<text x="91.63" y="535.86" font-size="10" text-anchor="middle" fill="#000" stroke="#000" stroke-width="0.15" >cancer</text>
<text x="91.63" y="549.16" font-size="10" text-anchor="middle" fill="#000" stroke="#000" stroke-width="0.15" >history</text>
<text x="61.17" y="535.86" font-size="10" text-anchor="middle" fill="#000" stroke="#000" stroke-width="0.15" >annual</text>
<text x="61.17" y="549.16" font-size="10" text-anchor="middle" fill="#000" stroke="#000" stroke-width="0.15" >income</text>
<text x="36.52" y="560.73" font-size="10" text-anchor="middle" fill="#000" stroke="#000" stroke-width="0.15" >education</text>
<text x="27.10" y="590.30" font-size="10" text-anchor="middle" fill="#000" stroke="#000" stroke-width="0.15" >european</text>
<text x="36.52" y="619.87" font-size="10" text-anchor="middle" fill="#000" stroke="#000" stroke-width="0.15" >lng</text>
<text x="61.17" y="638.14" font-size="10" text-anchor="middle" fill="#000" stroke="#000" stroke-width="0.15" >lat</text>
<text x="91.63" y="631.54" font-size="10" text-anchor="middle" fill="#000" stroke="#000" stroke-width="0.15" >alcohol</text>
<text x="91.63" y="644.84" font-size="10" text-anchor="middle" fill="#000" stroke="#000" stroke-width="0.15" >daily</text>
<text x="116.28" y="619.87" font-size="10" text-anchor="middle" fill="#000" stroke="#000" stroke-width="0.15" >pc1</text>
<text x="136.50" y="508.45" font-size="9.1" text-anchor="start" fill="#1a1a1a" stroke="#1a1a1a" stroke-width="0.15" >interaction</text>
<line x1="138.8" x2="154.4" y1="525.00" y2="525.00" stroke="#8c8c8c" stroke-width="2.1"/>
<text x="162.30" y="527.85" font-size="8.2" text-anchor="start" fill="#1a1a1a" stroke="#1a1a1a" stroke-width="0.15" >0.05</text>
<line x1="138.8" x2="154.4" y1="544.27" y2="544.27" stroke="#8c8c8c" stroke-width="3.5"/>
<text x="162.30" y="547.12" font-size="8.2" text-anchor="start" fill="#1a1a1a" stroke="#1a1a1a" stroke-width="0.15" >0.10</text>
<line x1="138.8" x2="154.4" y1="563.54" y2="563.54" stroke="#8c8c8c" stroke-width="4.9"/>
<text x="162.30" y="566.39" font-size="8.2" text-anchor="start" fill="#1a1a1a" stroke="#1a1a1a" stroke-width="0.15" >0.15</text>
<line x1="138.8" x2="154.4" y1="582.81" y2="582.81" stroke="#8c8c8c" stroke-width="6.3"/>
<text x="162.30" y="585.66" font-size="8.2" text-anchor="start" fill="#1a1a1a" stroke="#1a1a1a" stroke-width="0.15" >0.20</text>
<text x="136.80" y="607.90" font-size="9.0" text-anchor="start" fill="#1a1a1a" stroke="#1a1a1a" stroke-width="0.15" >Node Importance</text>
<circle cx="146.5" cy="624.75" r="5.1" fill="#4682b4"/>
<text x="162.30" y="627.40" font-size="8.2" text-anchor="start" fill="#1a1a1a" stroke="#1a1a1a" stroke-width="0.15" >0.5</text>
<circle cx="146.5" cy="644.05" r="6.45" fill="#4682b4"/>
<text x="162.30" y="646.70" font-size="8.2" text-anchor="start" fill="#1a1a1a" stroke="#1a1a1a" stroke-width="0.15" >1.0</text>
<circle cx="146.5" cy="663.35" r="7.66" fill="#4682b4"/>
<text x="162.30" y="666.00" font-size="8.2" text-anchor="start" fill="#1a1a1a" stroke="#1a1a1a" stroke-width="0.15" >1.5</text>
<text x="232.63" y="469.10" font-size="12.7" text-anchor="start" font-weight="bold" fill="#000" stroke="#000" stroke-width="0.15" >G</text>
<text x="304.73" y="509.40" font-size="12.4" text-anchor="middle" font-weight="bold" fill="#000" stroke="#000" stroke-width="0.15" >Top age quartile</text>
<line x1="354.03" y1="587.00" x2="319.96" y2="634.84" stroke="#8c8c8c" stroke-width="1.8"/>
<line x1="354.03" y1="587.00" x2="289.50" y2="539.16" stroke="#8c8c8c" stroke-width="1.8"/>
<line x1="354.03" y1="587.00" x2="344.61" y2="616.57" stroke="#8c8c8c" stroke-width="1.8"/>
<line x1="319.96" y1="634.84" x2="344.61" y2="616.57" stroke="#8c8c8c" stroke-width="1.8"/>
<line x1="289.50" y1="539.16" x2="319.96" y2="634.84" stroke="#8c8c8c" stroke-width="1.8"/>
<line x1="289.50" y1="539.16" x2="264.85" y2="557.43" stroke="#8c8c8c" stroke-width="1.8"/>
<line x1="289.50" y1="539.16" x2="255.43" y2="587.00" stroke="#8c8c8c" stroke-width="1.8"/>
<line x1="289.50" y1="539.16" x2="289.50" y2="634.84" stroke="#8c8c8c" stroke-width="1.8"/>
<line x1="289.50" y1="539.16" x2="264.85" y2="616.57" stroke="#8c8c8c" stroke-width="1.8"/>
<line x1="289.50" y1="539.16" x2="344.61" y2="616.57" stroke="#8c8c8c" stroke-width="1.8"/>
<line x1="319.96" y1="539.16" x2="319.96" y2="634.84" stroke="#8c8c8c" stroke-width="1.8"/>
<line x1="319.96" y1="539.16" x2="289.50" y2="539.16" stroke="#8c8c8c" stroke-width="1.8"/>
<line x1="319.96" y1="539.16" x2="264.85" y2="557.43" stroke="#8c8c8c" stroke-width="1.8"/>
<line x1="319.96" y1="539.16" x2="255.43" y2="587.00" stroke="#8c8c8c" stroke-width="1.8"/>
<line x1="319.96" y1="539.16" x2="289.50" y2="634.84" stroke="#8c8c8c" stroke-width="1.8"/>
<line x1="319.96" y1="539.16" x2="264.85" y2="616.57" stroke="#8c8c8c" stroke-width="1.8"/>
<line x1="319.96" y1="539.16" x2="344.61" y2="616.57" stroke="#8c8c8c" stroke-width="1.8"/>
<line x1="264.85" y1="557.43" x2="319.96" y2="634.84" stroke="#8c8c8c" stroke-width="1.8"/>
<line x1="264.85" y1="557.43" x2="255.43" y2="587.00" stroke="#8c8c8c" stroke-width="1.8"/>
<line x1="264.85" y1="557.43" x2="289.50" y2="634.84" stroke="#8c8c8c" stroke-width="1.8"/>
<line x1="264.85" y1="557.43" x2="264.85" y2="616.57" stroke="#8c8c8c" stroke-width="1.8"/>
<line x1="264.85" y1="557.43" x2="344.61" y2="616.57" stroke="#8c8c8c" stroke-width="1.8"/>
<line x1="255.43" y1="587.00" x2="319.96" y2="634.84" stroke="#8c8c8c" stroke-width="1.8"/>
<line x1="255.43" y1="587.00" x2="289.50" y2="634.84" stroke="#8c8c8c" stroke-width="1.8"/>
<line x1="255.43" y1="587.00" x2="264.85" y2="616.57" stroke="#8c8c8c" stroke-width="1.8"/>
<line x1="255.43" y1="587.00" x2="344.61" y2="616.57" stroke="#8c8c8c" stroke-width="1.8"/>
<line x1="289.50" y1="634.84" x2="319.96" y2="634.84" stroke="#8c8c8c" stroke-width="1.8"/>
<line x1="289.50" y1="634.84" x2="344.61" y2="616.57" stroke="#8c8c8c" stroke-width="1.8"/>
<line x1="264.85" y1="616.57" x2="319.96" y2="634.84" stroke="#8c8c8c" stroke-width="1.8"/>
<line x1="264.85" y1="616.57" x2="289.50" y2="634.84" stroke="#8c8c8c" stroke-width="1.8"/>
<line x1="264.85" y1="616.57" x2="344.61" y2="616.57" stroke="#8c8c8c" stroke-width="1.8"/>
<line x1="344.61" y1="557.43" x2="319.96" y2="634.84" stroke="#8c8c8c" stroke-width="1.8"/>
<line x1="344.61" y1="557.43" x2="289.50" y2="539.16" stroke="#8c8c8c" stroke-width="1.8"/>
<line x1="344.61" y1="557.43" x2="264.85" y2="557.43" stroke="#8c8c8c" stroke-width="1.8"/>
<line x1="344.61" y1="557.43" x2="255.43" y2="587.00" stroke="#8c8c8c" stroke-width="1.8"/>
<line x1="344.61" y1="557.43" x2="289.50" y2="634.84" stroke="#8c8c8c" stroke-width="1.8"/>
<line x1="344.61" y1="557.43" x2="264.85" y2="616.57" stroke="#8c8c8c" stroke-width="1.8"/>
<line x1="344.61" y1="557.43" x2="344.61" y2="616.57" stroke="#8c8c8c" stroke-width="1.8"/>
<line x1="354.03" y1="587.00" x2="289.50" y2="634.84" stroke="#8c8c8c" stroke-width="2.4"/>
<line x1="354.03" y1="587.00" x2="255.43" y2="587.00" stroke="#8c8c8c" stroke-width="2.5"/>
<line x1="344.61" y1="557.43" x2="319.96" y2="539.16" stroke="#8c8c8c" stroke-width="2.5"/>
<line x1="354.03" y1="587.00" x2="264.85" y2="616.57" stroke="#8c8c8c" stroke-width="3.0"/>
<line x1="354.03" y1="587.00" x2="264.85" y2="557.43" stroke="#8c8c8c" stroke-width="5.0"/>
<line x1="354.03" y1="587.00" x2="344.61" y2="557.43" stroke="#8c8c8c" stroke-width="6.0"/>
<line x1="354.03" y1="587.00" x2="319.96" y2="539.16" stroke="#8c8c8c" stroke-width="8.0"/>
<circle cx="354.03" cy="587.00" r="7.95" fill="#4682b4"/>
<circle cx="344.61" cy="557.43" r="5.5" fill="#4682b4"/>
<circle cx="319.96" cy="539.16" r="3.65" fill="#4682b4"/>
<circle cx="289.50" cy="539.16" r="3.5" fill="#4682b4"/>
<circle cx="264.85" cy="557.43" r="2.9" fill="#4682b4"/>
<circle cx="255.43" cy="587.00" r="2.75" fill="#4682b4"/>
<circle cx="264.85" cy="616.57" r="2.75" fill="#4682b4"/>
<circle cx="289.50" cy="634.84" r="2.65" fill="#4682b4"/>
<circle cx="319.96" cy="634.84" r="2.5" fill="#4682b4"/>
<circle cx="344.61" cy="616.57" r="1.95" fill="#4682b4"/>
<text x="354.03" y="590.30" font-size="10" text-anchor="middle" fill="#000" stroke="#000" stroke-width="0.15" >age</text>
<text x="344.61" y="560.73" font-size="10" text-anchor="middle" fill="#000" stroke="#000" stroke-width="0.15" >pc2</text>
<text x="319.96" y="535.86" font-size="10" text-anchor="middle" fill="#000" stroke="#000" stroke-width="0.15" >cancer</text>
<text x="319.96" y="549.16" font-size="10" text-anchor="middle" fill="#000" stroke="#000" stroke-width="0.15" >history</text>
<text x="289.50" y="535.86" font-size="10" text-anchor="middle" fill="#000" stroke="#000" stroke-width="0.15" >annual</text>
<text x="289.50" y="549.16" font-size="10" text-anchor="middle" fill="#000" stroke="#000" stroke-width="0.15" >income</text>
<text x="264.85" y="560.73" font-size="10" text-anchor="middle" fill="#000" stroke="#000" stroke-width="0.15" >education</text>
<text x="255.43" y="590.30" font-size="10" text-anchor="middle" fill="#000" stroke="#000" stroke-width="0.15" >european</text>
<text x="264.85" y="619.87" font-size="10" text-anchor="middle" fill="#000" stroke="#000" stroke-width="0.15" >lng</text>
<text x="289.50" y="638.14" font-size="10" text-anchor="middle" fill="#000" stroke="#000" stroke-width="0.15" >lat</text>
<text x="319.96" y="631.54" font-size="10" text-anchor="middle" fill="#000" stroke="#000" stroke-width="0.15" >alcohol</text>
<text x="319.96" y="644.84" font-size="10" text-anchor="middle" fill="#000" stroke="#000" stroke-width="0.15" >daily</text>
<text x="344.61" y="619.87" font-size="10" text-anchor="middle" fill="#000" stroke="#000" stroke-width="0.15" >pc1</text>
<text x="364.83" y="518.09" font-size="9.1" text-anchor="start" fill="#1a1a1a" stroke="#1a1a1a" stroke-width="0.15" >interaction</text>
<line x1="367.13" x2="382.73" y1="534.63" y2="534.63" stroke="#8c8c8c" stroke-width="3.0"/>
<text x="390.63" y="537.49" font-size="8.2" text-anchor="start" fill="#1a1a1a" stroke="#1a1a1a" stroke-width="0.15" >0.1</text>
<line x1="367.13" x2="382.73" y1="553.90" y2="553.90" stroke="#8c8c8c" stroke-width="5.0"/>
<text x="390.63" y="556.75" font-size="8.2" text-anchor="start" fill="#1a1a1a" stroke="#1a1a1a" stroke-width="0.15" >0.2</text>
<line x1="367.13" x2="382.73" y1="573.17" y2="573.17" stroke="#8c8c8c" stroke-width="7.0"/>
<text x="390.63" y="576.02" font-size="8.2" text-anchor="start" fill="#1a1a1a" stroke="#1a1a1a" stroke-width="0.15" >0.3</text>
<text x="365.13" y="598.26" font-size="9.0" text-anchor="start" fill="#1a1a1a" stroke="#1a1a1a" stroke-width="0.15" >Node Importance</text>
<circle cx="374.83000000000004" cy="615.12" r="5.1" fill="#4682b4"/>
<text x="390.63" y="617.76" font-size="8.2" text-anchor="start" fill="#1a1a1a" stroke="#1a1a1a" stroke-width="0.15" >0.5</text>
<circle cx="374.83000000000004" cy="634.41" r="6.45" fill="#4682b4"/>
<text x="390.63" y="637.06" font-size="8.2" text-anchor="start" fill="#1a1a1a" stroke="#1a1a1a" stroke-width="0.15" >1.0</text>
<circle cx="374.83000000000004" cy="653.72" r="7.66" fill="#4682b4"/>
<text x="390.63" y="656.37" font-size="8.2" text-anchor="start" fill="#1a1a1a" stroke="#1a1a1a" stroke-width="0.15" >1.5</text>
<text x="460.97" y="469.10" font-size="12.7" text-anchor="start" font-weight="bold" fill="#000" stroke="#000" stroke-width="0.15" >H</text>
<text x="533.07" y="509.40" font-size="12.4" text-anchor="middle" font-weight="bold" fill="#000" stroke="#000" stroke-width="0.15" >Bottom age quartile</text>
<line x1="548.30" y1="634.84" x2="572.95" y2="616.57" stroke="#8c8c8c" stroke-width="1.8"/>
<line x1="517.84" y1="539.16" x2="548.30" y2="634.84" stroke="#8c8c8c" stroke-width="1.8"/>
<line x1="517.84" y1="539.16" x2="493.19" y2="557.43" stroke="#8c8c8c" stroke-width="1.8"/>
<line x1="517.84" y1="539.16" x2="483.77" y2="587.00" stroke="#8c8c8c" stroke-width="1.8"/>
<line x1="517.84" y1="539.16" x2="493.19" y2="616.57" stroke="#8c8c8c" stroke-width="1.8"/>
<line x1="517.84" y1="539.16" x2="572.95" y2="616.57" stroke="#8c8c8c" stroke-width="1.8"/>
<line x1="548.30" y1="539.16" x2="548.30" y2="634.84" stroke="#8c8c8c" stroke-width="1.8"/>
<line x1="548.30" y1="539.16" x2="517.84" y2="539.16" stroke="#8c8c8c" stroke-width="1.8"/>
<line x1="548.30" y1="539.16" x2="493.19" y2="557.43" stroke="#8c8c8c" stroke-width="1.8"/>
<line x1="548.30" y1="539.16" x2="483.77" y2="587.00" stroke="#8c8c8c" stroke-width="1.8"/>
<line x1="548.30" y1="539.16" x2="517.84" y2="634.84" stroke="#8c8c8c" stroke-width="1.8"/>
<line x1="548.30" y1="539.16" x2="493.19" y2="616.57" stroke="#8c8c8c" stroke-width="1.8"/>
<line x1="548.30" y1="539.16" x2="572.95" y2="616.57" stroke="#8c8c8c" stroke-width="1.8"/>
<line x1="493.19" y1="557.43" x2="548.30" y2="634.84" stroke="#8c8c8c" stroke-width="1.8"/>
<line x1="493.19" y1="557.43" x2="483.77" y2="587.00" stroke="#8c8c8c" stroke-width="1.8"/>
<line x1="493.19" y1="557.43" x2="517.84" y2="634.84" stroke="#8c8c8c" stroke-width="1.8"/>
<line x1="493.19" y1="557.43" x2="493.19" y2="616.57" stroke="#8c8c8c" stroke-width="1.8"/>
<line x1="493.19" y1="557.43" x2="572.95" y2="616.57" stroke="#8c8c8c" stroke-width="1.8"/>
<line x1="483.77" y1="587.00" x2="548.30" y2="634.84" stroke="#8c8c8c" stroke-width="1.8"/>
<line x1="483.77" y1="587.00" x2="517.84" y2="634.84" stroke="#8c8c8c" stroke-width="1.8"/>
<line x1="483.77" y1="587.00" x2="493.19" y2="616.57" stroke="#8c8c8c" stroke-width="1.8"/>
<line x1="483.77" y1="587.00" x2="572.95" y2="616.57" stroke="#8c8c8c" stroke-width="1.8"/>
<line x1="493.19" y1="616.57" x2="548.30" y2="634.84" stroke="#8c8c8c" stroke-width="1.8"/>
<line x1="493.19" y1="616.57" x2="517.84" y2="634.84" stroke="#8c8c8c" stroke-width="1.8"/>
<line x1="493.19" y1="616.57" x2="572.95" y2="616.57" stroke="#8c8c8c" stroke-width="1.8"/>
<line x1="572.95" y1="557.43" x2="548.30" y2="634.84" stroke="#8c8c8c" stroke-width="1.8"/>
<line x1="572.95" y1="557.43" x2="493.19" y2="557.43" stroke="#8c8c8c" stroke-width="1.8"/>
<line x1="572.95" y1="557.43" x2="483.77" y2="587.00" stroke="#8c8c8c" stroke-width="1.8"/>
<line x1="572.95" y1="557.43" x2="517.84" y2="634.84" stroke="#8c8c8c" stroke-width="1.8"/>
<line x1="572.95" y1="557.43" x2="493.19" y2="616.57" stroke="#8c8c8c" stroke-width="1.8"/>
<line x1="572.95" y1="557.43" x2="572.95" y2="616.57" stroke="#8c8c8c" stroke-width="1.8"/>
<line x1="517.84" y1="634.84" x2="572.95" y2="616.57" stroke="#8c8c8c" stroke-width="2.0"/>
<line x1="582.37" y1="587.00" x2="572.95" y2="616.57" stroke="#8c8c8c" stroke-width="2.2"/>
<line x1="517.84" y1="539.16" x2="517.84" y2="634.84" stroke="#8c8c8c" stroke-width="2.5"/>
<line x1="517.84" y1="634.84" x2="548.30" y2="634.84" stroke="#8c8c8c" stroke-width="2.5"/>
<line x1="572.95" y1="557.43" x2="548.30" y2="539.16" stroke="#8c8c8c" stroke-width="2.5"/>
<line x1="582.37" y1="587.00" x2="548.30" y2="634.84" stroke="#8c8c8c" stroke-width="2.8"/>
<line x1="582.37" y1="587.00" x2="483.77" y2="587.00" stroke="#8c8c8c" stroke-width="3.0"/>
<line x1="572.95" y1="557.43" x2="517.84" y2="539.16" stroke="#8c8c8c" stroke-width="3.0"/>
<line x1="582.37" y1="587.00" x2="493.19" y2="616.57" stroke="#8c8c8c" stroke-width="4.0"/>
<line x1="582.37" y1="587.00" x2="493.19" y2="557.43" stroke="#8c8c8c" stroke-width="5.0"/>
<line x1="582.37" y1="587.00" x2="517.84" y2="634.84" stroke="#8c8c8c" stroke-width="5.5"/>
<line x1="582.37" y1="587.00" x2="548.30" y2="539.16" stroke="#8c8c8c" stroke-width="6.0"/>
<line x1="582.37" y1="587.00" x2="572.95" y2="557.43" stroke="#8c8c8c" stroke-width="6.0"/>
<line x1="582.37" y1="587.00" x2="517.84" y2="539.16" stroke="#8c8c8c" stroke-width="7.0"/>
<circle cx="582.37" cy="587.00" r="7.95" fill="#4682b4"/>
<circle cx="572.95" cy="557.43" r="5.5" fill="#4682b4"/>
<circle cx="548.30" cy="539.16" r="3.6" fill="#4682b4"/>
<circle cx="517.84" cy="539.16" r="3.45" fill="#4682b4"/>
<circle cx="493.19" cy="557.43" r="2.9" fill="#4682b4"/>
<circle cx="483.77" cy="587.00" r="2.75" fill="#4682b4"/>
<circle cx="493.19" cy="616.57" r="2.75" fill="#4682b4"/>
<circle cx="517.84" cy="634.84" r="2.65" fill="#4682b4"/>
<circle cx="548.30" cy="634.84" r="2.5" fill="#4682b4"/>
<circle cx="572.95" cy="616.57" r="1.95" fill="#4682b4"/>
<text x="582.37" y="590.30" font-size="10" text-anchor="middle" fill="#000" stroke="#000" stroke-width="0.15" >age</text>
<text x="572.95" y="560.73" font-size="10" text-anchor="middle" fill="#000" stroke="#000" stroke-width="0.15" >pc2</text>
<text x="548.30" y="535.86" font-size="10" text-anchor="middle" fill="#000" stroke="#000" stroke-width="0.15" >cancer</text>
<text x="548.30" y="549.16" font-size="10" text-anchor="middle" fill="#000" stroke="#000" stroke-width="0.15" >history</text>
<text x="517.84" y="535.86" font-size="10" text-anchor="middle" fill="#000" stroke="#000" stroke-width="0.15" >annual</text>
<text x="517.84" y="549.16" font-size="10" text-anchor="middle" fill="#000" stroke="#000" stroke-width="0.15" >income</text>
<text x="493.19" y="560.73" font-size="10" text-anchor="middle" fill="#000" stroke="#000" stroke-width="0.15" >education</text>
<text x="483.77" y="590.30" font-size="10" text-anchor="middle" fill="#000" stroke="#000" stroke-width="0.15" >european</text>
<text x="493.19" y="619.87" font-size="10" text-anchor="middle" fill="#000" stroke="#000" stroke-width="0.15" >lng</text>
<text x="517.84" y="638.14" font-size="10" text-anchor="middle" fill="#000" stroke="#000" stroke-width="0.15" >lat</text>
<text x="548.30" y="631.54" font-size="10" text-anchor="middle" fill="#000" stroke="#000" stroke-width="0.15" >alcohol</text>
<text x="548.30" y="644.84" font-size="10" text-anchor="middle" fill="#000" stroke="#000" stroke-width="0.15" >daily</text>
<text x="572.95" y="619.87" font-size="10" text-anchor="middle" fill="#000" stroke="#000" stroke-width="0.15" >pc1</text>
<text x="593.17" y="527.72" font-size="9.1" text-anchor="start" fill="#1a1a1a" stroke="#1a1a1a" stroke-width="0.15" >interaction</text>
<line x1="595.47" x2="611.07" y1="544.27" y2="544.27" stroke="#8c8c8c" stroke-width="3.0"/>
<text x="618.97" y="547.12" font-size="8.2" text-anchor="start" fill="#1a1a1a" stroke="#1a1a1a" stroke-width="0.15" >0.05</text>
<line x1="595.47" x2="611.07" y1="563.54" y2="563.54" stroke="#8c8c8c" stroke-width="5.0"/>
<text x="618.97" y="566.39" font-size="8.2" text-anchor="start" fill="#1a1a1a" stroke="#1a1a1a" stroke-width="0.15" >0.10</text>
<text x="593.47" y="588.63" font-size="9.0" text-anchor="start" fill="#1a1a1a" stroke="#1a1a1a" stroke-width="0.15" >Node Importance</text>
<circle cx="603.1700000000001" cy="605.48" r="5.1" fill="#4682b4"/>
<text x="618.97" y="608.13" font-size="8.2" text-anchor="start" fill="#1a1a1a" stroke="#1a1a1a" stroke-width="0.15" >0.5</text>
<circle cx="603.1700000000001" cy="624.78" r="6.45" fill="#4682b4"/>
<text x="618.97" y="627.43" font-size="8.2" text-anchor="start" fill="#1a1a1a" stroke="#1a1a1a" stroke-width="0.15" >1.0</text>
<circle cx="603.1700000000001" cy="644.08" r="7.66" fill="#4682b4"/>
<text x="618.97" y="646.73" font-size="8.2" text-anchor="start" fill="#1a1a1a" stroke="#1a1a1a" stroke-width="0.15" >1.5</text>
</svg></div></body></html>
